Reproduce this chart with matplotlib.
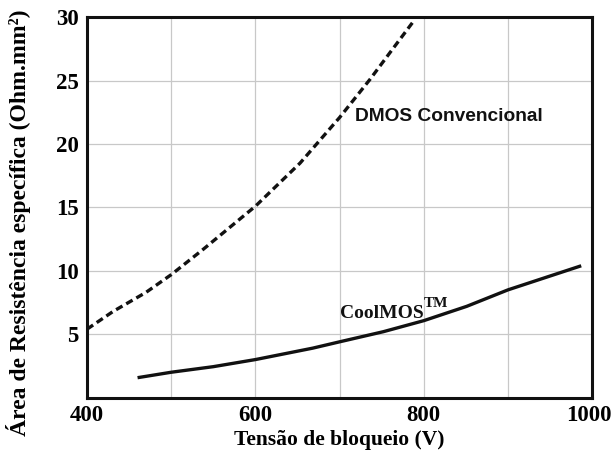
import matplotlib
matplotlib.use('Agg')
import matplotlib.pyplot as plt
import matplotlib.transforms as mtransforms

# DMOS convencional (dashed)
dmos_v = [400, 431, 470, 500, 538, 600, 653, 700, 736, 763, 789]
dmos_r = [5.4, 6.8, 8.3, 9.7, 11.7, 15.1, 18.5, 22.1, 25.1, 27.5, 29.8]

# CoolMOS (solid)
cool_v = [460, 500, 550, 600, 668, 700, 752, 800, 851, 900, 987]
cool_r = [1.57, 2.0, 2.44, 3.0, 3.9, 4.4, 5.2, 6.07, 7.2, 8.5, 10.4]

x_ticks = [400, 600, 800, 1000]
y_ticks = [5, 10, 15, 20, 25, 30]

fig = plt.figure(figsize=(6.13, 4.57), dpi=100)
ax = fig.add_axes([0.142, 0.130, 0.824, 0.832])

ax.plot(dmos_v, dmos_r, color='#111111', lw=2.4, ls=(0, (2.2, 1.3)))
ax.plot(cool_v, cool_r, color='#111111', lw=2.4, solid_capstyle='butt')

ax.set_xlim(400, 1000)
ax.set_ylim(0, 30)
ax.set_xticks(x_ticks)
ax.set_xticks([500, 700, 900], minor=True)
ax.set_yticks(y_ticks)
ax.grid(True, which='both', color='#c8c8c8', lw=0.9)
ax.set_axisbelow(True)
ax.tick_params(which='both', length=0)
ax.tick_params(axis='x', pad=5)
ax.tick_params(axis='y', pad=6)

serif = 'Liberation Serif'
for lab in ax.get_xticklabels() + ax.get_yticklabels():
    lab.set_family(serif)
    lab.set_fontweight('bold')
    lab.set_fontsize(16.5)

# nudge "1000" a little so it stays inside the figure
last = ax.get_xticklabels()[-1]
last.set_transform(last.get_transform() +
                   mtransforms.ScaledTranslation(-3 / 100, 0, fig.dpi_scale_trans))

for s in ax.spines.values():
    s.set_linewidth(2.2)
    s.set_color('#111111')

ax.set_xlabel('Tensão de bloqueio (V)', family=serif, fontweight='bold',
              fontsize=15.5, labelpad=3)
ax.set_ylabel('Área de Resistência específica (Ohm.mm²)', family=serif,
              fontweight='bold', fontsize=17)
ax.yaxis.set_label_coords(-0.111, 0.459)

ax.text(718, 22.2, 'DMOS Convencional', family='Liberation Sans',
        fontweight='bold', fontsize=13.8, va='center', ha='left', color='#111111')
t = ax.text(701, 6.6, 'CoolMOS', family=serif, fontweight='bold',
            fontsize=14, va='center', ha='left', color='#111111')
ax.annotate('TM', xy=(1, 0.75), xycoords=t, family=serif, fontweight='bold',
            fontsize=11, va='bottom', ha='left', color='#111111')

fig.savefig('out.png', dpi=100)
